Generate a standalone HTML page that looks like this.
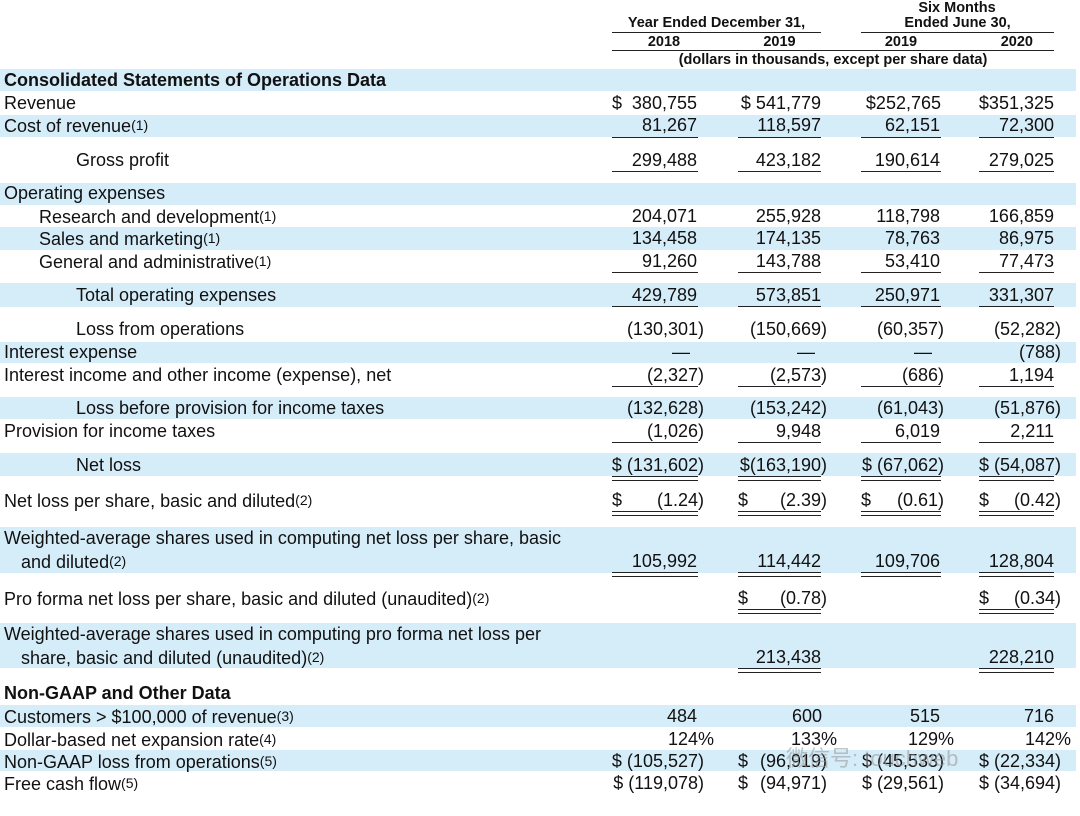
<!DOCTYPE html>
<html><head><meta charset="utf-8">
<style>
body{margin:0;width:1080px;height:816px;background:#fff;position:relative;overflow:hidden;font-family:"Liberation Sans",sans-serif;color:#111}
.b{position:absolute;left:0;width:1076px;background:#d5ecf9}
.t{position:absolute;font-size:18px;line-height:22px;white-space:nowrap}
.h{position:absolute;font-size:14.5px;font-weight:bold;line-height:16px;white-space:nowrap;text-align:center}
.bold{font-weight:bold}
.n1{right:383px}.n1p{right:376px}
.n2{right:259px}.n2p{right:253px}
.n3{right:140px}.n3p{right:136px}
.n4{right:26px}.n4p{right:19px}
.l{position:absolute;height:0;border-top:1.5px solid #222}
.u1{left:612px;width:86px}.u2{left:738px;width:83px}.u3{left:861px;width:80px}.u4{left:979px;width:75px}
sup{font-size:14px;vertical-align:2px}
</style></head><body>
<!-- bands -->
<div class="b" style="top:69px;height:22px"></div>
<div class="b" style="top:115px;height:22px"></div>
<div class="b" style="top:183px;height:22px"></div>
<div class="b" style="top:227px;height:23px"></div>
<div class="b" style="top:283px;height:24px"></div>
<div class="b" style="top:342px;height:21px"></div>
<div class="b" style="top:397px;height:22px"></div>
<div class="b" style="top:453px;height:23px"></div>
<div class="b" style="top:527px;height:46px"></div>
<div class="b" style="top:623px;height:45px"></div>
<div class="b" style="top:705px;height:22px"></div>
<div class="b" style="top:750px;height:21px"></div>

<!-- header -->
<div class="h" style="left:900px;width:114px;top:0px">Six Months</div>
<div class="h" style="left:612px;width:209px;top:15px">Year Ended December 31,</div>
<div class="h" style="left:861px;width:193px;top:15px">Ended June 30,</div>
<div class="l" style="left:612px;width:209px;top:32px"></div>
<div class="l" style="left:861px;width:193px;top:32px"></div>
<div class="h" style="left:612px;width:104px;top:34px">2018</div>
<div class="h" style="left:738px;width:83px;top:34px">2019</div>
<div class="h" style="left:861px;width:80px;top:34px">2019</div>
<div class="h" style="left:979px;width:54px;top:34px;text-align:right">2020</div>
<div class="l" style="left:612px;width:442px;top:50px"></div>
<div class="h" style="left:612px;width:442px;top:52px">(dollars in thousands, except per share data)</div>

<!-- rows -->
<div class="t bold" style="left:4px;top:69px">Consolidated Statements of Operations Data</div>

<div class="t" style="left:4px;top:92px">Revenue</div>
<div class="t" style="left:612px;top:92px">$</div>
<div class="t n1" style="top:92px">380,755</div>
<div class="t n2" style="top:92px">$ 541,779</div>
<div class="t n3" style="top:92px;right:139px">$252,765</div>
<div class="t n4" style="top:92px">$351,325</div>

<div class="t" style="left:4px;top:114px">Cost of revenue<sup>(1)</sup></div>
<div class="t n1" style="top:114px">81,267</div>
<div class="t n2" style="top:114px">118,597</div>
<div class="t n3" style="top:114px">62,151</div>
<div class="t n4" style="top:114px">72,300</div>
<div class="l u1" style="top:137px"></div><div class="l u2" style="top:137px"></div><div class="l u3" style="top:137px"></div><div class="l u4" style="top:137px"></div>

<div class="t" style="left:76px;top:149px">Gross profit</div>
<div class="t n1" style="top:149px">299,488</div>
<div class="t n2" style="top:149px">423,182</div>
<div class="t n3" style="top:149px">190,614</div>
<div class="t n4" style="top:149px">279,025</div>
<div class="l u1" style="top:171px"></div><div class="l u2" style="top:171px"></div><div class="l u3" style="top:171px"></div><div class="l u4" style="top:171px"></div>

<div class="t" style="left:4px;top:182px">Operating expenses</div>

<div class="t" style="left:39px;top:205px">Research and development<sup>(1)</sup></div>
<div class="t n1" style="top:205px">204,071</div>
<div class="t n2" style="top:205px">255,928</div>
<div class="t n3" style="top:205px">118,798</div>
<div class="t n4" style="top:205px">166,859</div>

<div class="t" style="left:39px;top:227px">Sales and marketing<sup>(1)</sup></div>
<div class="t n1" style="top:227px">134,458</div>
<div class="t n2" style="top:227px">174,135</div>
<div class="t n3" style="top:227px">78,763</div>
<div class="t n4" style="top:227px">86,975</div>

<div class="t" style="left:39px;top:250px">General and administrative<sup>(1)</sup></div>
<div class="t n1" style="top:250px">91,260</div>
<div class="t n2" style="top:250px">143,788</div>
<div class="t n3" style="top:250px">53,410</div>
<div class="t n4" style="top:250px">77,473</div>
<div class="l u1" style="top:272px"></div><div class="l u2" style="top:272px"></div><div class="l u3" style="top:272px"></div><div class="l u4" style="top:272px"></div>

<div class="t" style="left:76px;top:284px">Total operating expenses</div>
<div class="t n1" style="top:284px">429,789</div>
<div class="t n2" style="top:284px">573,851</div>
<div class="t n3" style="top:284px">250,971</div>
<div class="t n4" style="top:284px">331,307</div>
<div class="l u1" style="top:306px"></div><div class="l u2" style="top:306px"></div><div class="l u3" style="top:306px"></div><div class="l u4" style="top:306px"></div>

<div class="t" style="left:76px;top:318px">Loss from operations</div>
<div class="t n1p" style="top:318px">(130,301)</div>
<div class="t n2p" style="top:318px">(150,669)</div>
<div class="t n3p" style="top:318px">(60,357)</div>
<div class="t n4p" style="top:318px">(52,282)</div>

<div class="t" style="left:4px;top:341px">Interest expense</div>
<div class="t n1" style="top:341px;right:390px">—</div>
<div class="t n2" style="top:341px;right:265px">—</div>
<div class="t n3" style="top:341px;right:148px">—</div>
<div class="t n4p" style="top:341px">(788)</div>

<div class="t" style="left:4px;top:364px">Interest income and other income (expense), net</div>
<div class="t n1p" style="top:364px">(2,327)</div>
<div class="t n2p" style="top:364px">(2,573)</div>
<div class="t n3p" style="top:364px">(686)</div>
<div class="t n4" style="top:364px">1,194</div>
<div class="l u1" style="top:386px"></div><div class="l u2" style="top:386px"></div><div class="l u3" style="top:386px"></div><div class="l u4" style="top:386px"></div>

<div class="t" style="left:76px;top:397px">Loss before provision for income taxes</div>
<div class="t n1p" style="top:397px">(132,628)</div>
<div class="t n2p" style="top:397px">(153,242)</div>
<div class="t n3p" style="top:397px">(61,043)</div>
<div class="t n4p" style="top:397px">(51,876)</div>

<div class="t" style="left:4px;top:420px">Provision for income taxes</div>
<div class="t n1p" style="top:420px">(1,026)</div>
<div class="t n2" style="top:420px">9,948</div>
<div class="t n3" style="top:420px">6,019</div>
<div class="t n4" style="top:420px">2,211</div>
<div class="l u1" style="top:442px"></div><div class="l u2" style="top:442px"></div><div class="l u3" style="top:442px"></div><div class="l u4" style="top:442px"></div>

<div class="t" style="left:76px;top:454px">Net loss</div>
<div class="t n1p" style="top:454px">$ (131,602)</div>
<div class="t n2p" style="top:454px">$(163,190)</div>
<div class="t n3p" style="top:454px">$ (67,062)</div>
<div class="t n4p" style="top:454px">$ (54,087)</div>
<div class="l u1" style="top:476px"></div><div class="l u2" style="top:476px"></div><div class="l u3" style="top:476px"></div><div class="l u4" style="top:476px"></div>
<div class="l u1" style="top:479.5px"></div><div class="l u2" style="top:479.5px"></div><div class="l u3" style="top:479.5px"></div><div class="l u4" style="top:479.5px"></div>

<div class="t" style="left:4px;top:489px">Net loss per share, basic and diluted<sup>(2)</sup></div>
<div class="t" style="left:612px;top:489px">$</div>
<div class="t" style="left:738px;top:489px">$</div>
<div class="t" style="left:861px;top:489px">$</div>
<div class="t" style="left:979px;top:489px">$</div>
<div class="t n1p" style="top:489px">(1.24)</div>
<div class="t n2p" style="top:489px">(2.39)</div>
<div class="t n3p" style="top:489px">(0.61)</div>
<div class="t n4p" style="top:489px">(0.42)</div>
<div class="l u1" style="top:511px"></div><div class="l u2" style="top:511px"></div><div class="l u3" style="top:511px"></div><div class="l u4" style="top:511px"></div>
<div class="l u1" style="top:514.5px"></div><div class="l u2" style="top:514.5px"></div><div class="l u3" style="top:514.5px"></div><div class="l u4" style="top:514.5px"></div>

<div class="t" style="left:4px;top:527px">Weighted-average shares used in computing net loss per share, basic</div>
<div class="t" style="left:21px;top:550px">and diluted<sup>(2)</sup></div>
<div class="t n1" style="top:550px">105,992</div>
<div class="t n2" style="top:550px">114,442</div>
<div class="t n3" style="top:550px">109,706</div>
<div class="t n4" style="top:550px">128,804</div>
<div class="l u1" style="top:572px"></div><div class="l u2" style="top:572px"></div><div class="l u3" style="top:572px"></div><div class="l u4" style="top:572px"></div>
<div class="l u1" style="top:575.5px"></div><div class="l u2" style="top:575.5px"></div><div class="l u3" style="top:575.5px"></div><div class="l u4" style="top:575.5px"></div>

<div class="t" style="left:4px;top:587px">Pro forma net loss per share, basic and diluted (unaudited)<sup>(2)</sup></div>
<div class="t" style="left:738px;top:587px">$</div>
<div class="t" style="left:979px;top:587px">$</div>
<div class="t n2p" style="top:587px">(0.78)</div>
<div class="t n4p" style="top:587px">(0.34)</div>
<div class="l u2" style="top:609px"></div><div class="l u4" style="top:609px"></div>
<div class="l u2" style="top:612.5px"></div><div class="l u4" style="top:612.5px"></div>

<div class="t" style="left:4px;top:623px">Weighted-average shares used in computing pro forma net loss per</div>
<div class="t" style="left:21px;top:646px">share, basic and diluted (unaudited)<sup>(2)</sup></div>
<div class="t n2" style="top:646px">213,438</div>
<div class="t n4" style="top:646px">228,210</div>
<div class="l u2" style="top:668px"></div><div class="l u4" style="top:668px"></div>
<div class="l u2" style="top:671.5px"></div><div class="l u4" style="top:671.5px"></div>

<div class="t bold" style="left:4px;top:682px">Non-GAAP and Other Data</div>

<div class="t" style="left:4px;top:705px">Customers &gt; $100,000 of revenue<sup>(3)</sup></div>
<div class="t n1" style="top:705px">484</div>
<div class="t n2" style="top:705px;right:258px">600</div>
<div class="t n3" style="top:705px">515</div>
<div class="t n4" style="top:705px">716</div>

<div class="t" style="left:4px;top:728px">Dollar-based net expansion rate<sup>(4)</sup></div>
<div class="t" style="right:366px;top:728px">124%</div>
<div class="t" style="right:243px;top:728px">133%</div>
<div class="t" style="right:126px;top:728px">129%</div>
<div class="t" style="right:9px;top:728px">142%</div>

<div class="t" style="left:4px;top:750px">Non-GAAP loss from operations<sup>(5)</sup></div>
<div class="t n1p" style="top:750px">$ (105,527)</div>
<div class="t" style="left:738px;top:750px">$</div>
<div class="t n2p" style="top:750px">(96,919)</div>
<div class="t n3p" style="top:750px">$ (45,533)</div>
<div class="t n4p" style="top:750px">$ (22,334)</div>

<div class="t" style="left:4px;top:772px">Free cash flow<sup>(5)</sup></div>
<div class="t n1p" style="top:772px">$ (119,078)</div>
<div class="t" style="left:738px;top:772px">$</div>
<div class="t n2p" style="top:772px">(94,971)</div>
<div class="t n3p" style="top:772px">$ (29,561)</div>
<div class="t n4p" style="top:772px">$ (34,694)</div>

<div class="t" style="left:786px;top:748px;font-size:22px;color:rgba(150,150,150,0.55);font-family:'Liberation Sans','Noto Sans CJK SC',sans-serif">微信号: touchweb</div>
</body></html>
